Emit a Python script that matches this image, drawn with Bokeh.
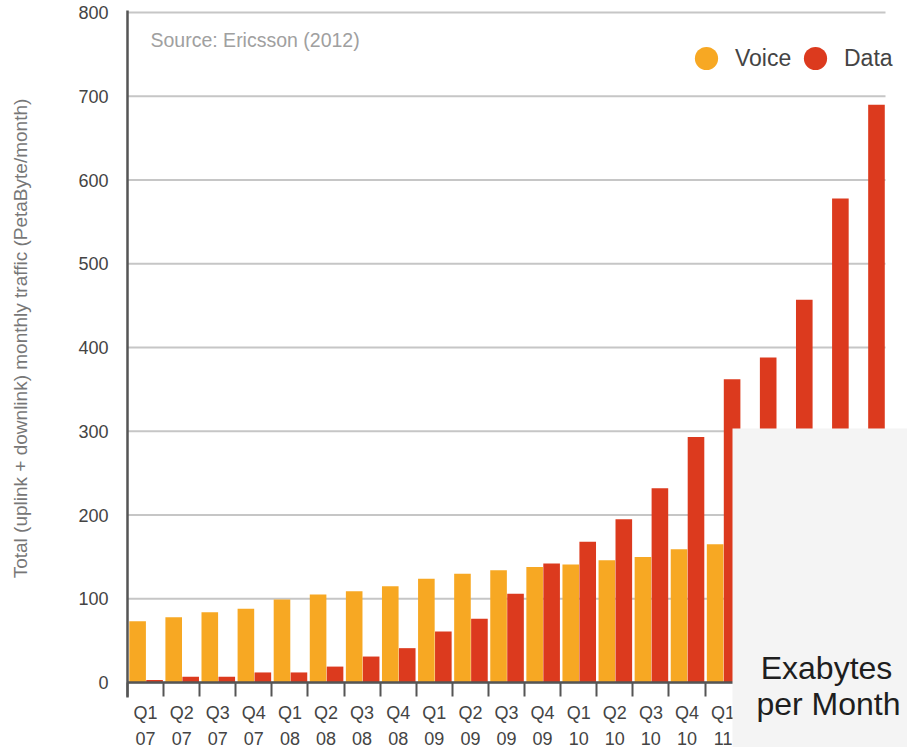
import numpy as np
from bokeh.plotting import figure
from bokeh.models import (FixedTicker, BoxAnnotation, Label, Range1d, ColumnDataSource,
                          Legend, LegendItem)
from bokeh.transform import dodge
from bokeh.embed import file_html
from bokeh.resources import INLINE

# ---- data ----
quarters = ["Q1 07", "Q2 07", "Q3 07", "Q4 07",
            "Q1 08", "Q2 08", "Q3 08", "Q4 08",
            "Q1 09", "Q2 09", "Q3 09", "Q4 09",
            "Q1 10", "Q2 10", "Q3 10", "Q4 10",
            "Q1 11", "Q2 11", "Q3 11", "Q4 11", "Q1 12"]
voice = [73, 78, 84, 88, 99, 105, 109, 115, 124, 130, 134, 138,
         141, 146, 150, 159, 165, 169, 173, 177, 181]
data = [3, 7, 7, 12, 12, 19, 31, 41, 61, 76, 106, 142,
        168, 195, 232, 293, 362, 388, 457, 578, 690]
y_ticks = [0, 100, 200, 300, 400, 500, 600, 700, 800]

ORANGE = "#F7A823"
RED = "#DC3A1E"
FONT = "Liberation Sans"

# ---- layout (pixels) ----
W, H = 907, 747
PLOT_L, PLOT_R, PLOT_T, PLOT_B = 127, 885, 12, 682

n = len(quarters)
idx = np.arange(n)
x_lo, x_hi = -0.5, n - 0.5
y_lo, y_hi = 0, y_ticks[-1]
xs = (PLOT_R - PLOT_L) / (x_hi - x_lo)
ys = (PLOT_B - PLOT_T) / (y_hi - y_lo)
x_range = Range1d(x_lo - PLOT_L / xs, x_hi + (W - PLOT_R) / xs)
y_range = Range1d(y_lo - (H - PLOT_B) / ys, y_hi + PLOT_T / ys)

src = ColumnDataSource(dict(i=idx, voice=voice, data=data))
grid_src = ColumnDataSource(dict(y=y_ticks, x0=[x_lo] * len(y_ticks), x1=[x_hi] * len(y_ticks)))

p = figure(width=W, height=H, x_range=x_range, y_range=y_range,
           output_backend="svg", toolbar_location=None, title=None, min_border=0)
p.outline_line_color = None
p.background_fill_color = "white"
p.border_fill_color = "white"
p.xgrid.visible = False
p.ygrid.visible = False

# horizontal grid lines, ending at the plot's right edge
p.segment(x0="x0", x1="x1", y0="y", y1="y", source=grid_src,
          line_color="#c6c6c6", line_width=2)

p.vbar(x=dodge("i", -0.22, range=p.x_range), top="voice", width=0.46, source=src,
       fill_color=ORANGE, line_color=None)
p.vbar(x=dodge("i", 0.25, range=p.x_range), top="data", width=0.46, source=src,
       fill_color=RED, line_color=None)

# y axis
ya = p.yaxis[0]
ya.fixed_location = x_lo
ya.bounds = (-18, 802)
ya.ticker = FixedTicker(ticks=y_ticks)
ya.axis_line_color = "#555555"
ya.axis_line_width = 2.5
ya.major_tick_out = 0
ya.major_tick_in = 0
ya.minor_tick_out = 0
ya.minor_tick_in = 0
ya.major_label_text_font = FONT
ya.major_label_text_font_size = "18px"
ya.major_label_text_color = "#444444"
ya.major_label_standoff = 19

# x axis
xa = p.xaxis[0]
xa.fixed_location = 0
xa.bounds = (x_lo, x_hi)
xa.ticker = FixedTicker(ticks=list(idx), minor_ticks=[k - 0.5 for k in range(n + 1)])
xa.major_label_overrides = {int(k): q.replace(" ", "\n") for k, q in zip(idx, quarters)}
xa.axis_line_color = "#555555"
xa.axis_line_width = 2.5
xa.major_tick_out = 0
xa.major_tick_in = 0
xa.minor_tick_out = 14
xa.minor_tick_in = 0
xa.minor_tick_line_color = "#555555"
xa.minor_tick_line_width = 2
xa.major_label_text_font = FONT
xa.major_label_text_font_size = "18px"
xa.major_label_text_line_height = 1.3
xa.major_label_text_color = "#444444"
xa.major_label_standoff = 6

# y axis title
p.add_layout(Label(x=20, y=H - 338, x_units="screen", y_units="screen", angle=np.pi / 2,
                   text="Total (uplink + downlink) monthly traffic (PetaByte/month)",
                   text_font=FONT, text_font_size="19px", text_color="#777777",
                   text_align="center", text_baseline="middle"))

# legend with circle icons (one small legend per series)
r_v = p.scatter(x=[np.nan], y=[np.nan], marker="circle", fill_color=ORANGE, line_color=None)
r_d = p.scatter(x=[np.nan], y=[np.nan], marker="circle", fill_color=RED, line_color=None)
for label, rend, lx in [("Voice", r_v, 677), ("Data", r_d, 786)]:
    p.add_layout(Legend(items=[LegendItem(label=label, renderers=[rend])],
                        location=(lx, H - 87),
                        label_text_font=FONT, label_text_font_size="23px",
                        label_text_color="#444444",
                        glyph_width=58, glyph_height=58, label_standoff=0, spacing=0,
                        padding=0, margin=0, border_line_color=None,
                        background_fill_alpha=0))

p.add_layout(Label(x=150, y=H - 39, x_units="screen", y_units="screen",
                   text="Source: Ericsson (2012)", text_font=FONT, text_font_size="19.5px",
                   text_color="#a0a0a0", text_baseline="middle"))

# overlay panel
p.add_layout(BoxAnnotation(left=732, right=W, top=H - 428, bottom=0,
                           left_units="screen", right_units="screen",
                           top_units="screen", bottom_units="screen",
                           fill_color="#f4f4f4", fill_alpha=1, line_color=None,
                           level="overlay"))
p.add_layout(Label(x=826, y=H - 667, x_units="screen", y_units="screen", text="Exabytes",
                   text_font=FONT, text_font_size="32px", text_color="#1e1e1e",
                   text_align="center", text_baseline="alphabetic", level="overlay"))
p.add_layout(Label(x=828, y=H - 703, x_units="screen", y_units="screen", text="per Month",
                   text_font=FONT, text_font_size="32px", text_color="#1e1e1e",
                   text_align="center", text_baseline="alphabetic", level="overlay"))

open("out.html", "w").write(file_html(p, INLINE))
